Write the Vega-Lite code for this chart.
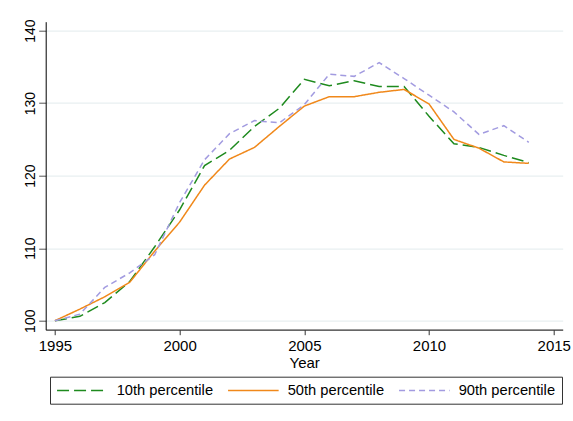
{
  "$schema": "https://vega.github.io/schema/vega-lite/v6.json",
  "width": 517,
  "height": 308,
  "autosize": {"type": "none"},
  "padding": {"left": 45.7, "top": 21.7, "right": 10.3, "bottom": 91.3},
  "background": "white",
  "config": {
    "view": {"stroke": null},
    "font": "Liberation Sans",
    "axis": {"labelFont": "Liberation Sans", "titleFont": "Liberation Sans", "labelColor": "black", "titleColor": "black"}
  },
  "data": {
    "values": [
      {"year": 1995, "series": "10th percentile", "value": 100},
      {"year": 1996, "series": "10th percentile", "value": 100.6},
      {"year": 1997, "series": "10th percentile", "value": 102.5},
      {"year": 1998, "series": "10th percentile", "value": 105.4},
      {"year": 1999, "series": "10th percentile", "value": 110.2},
      {"year": 2000, "series": "10th percentile", "value": 115.3},
      {"year": 2001, "series": "10th percentile", "value": 121.4},
      {"year": 2002, "series": "10th percentile", "value": 123.5},
      {"year": 2003, "series": "10th percentile", "value": 126.8},
      {"year": 2004, "series": "10th percentile", "value": 129.3},
      {"year": 2005, "series": "10th percentile", "value": 133.3},
      {"year": 2006, "series": "10th percentile", "value": 132.4},
      {"year": 2007, "series": "10th percentile", "value": 133.1},
      {"year": 2008, "series": "10th percentile", "value": 132.3},
      {"year": 2009, "series": "10th percentile", "value": 132.3},
      {"year": 2010, "series": "10th percentile", "value": 128.2},
      {"year": 2011, "series": "10th percentile", "value": 124.4},
      {"year": 2012, "series": "10th percentile", "value": 123.9},
      {"year": 2013, "series": "10th percentile", "value": 122.8},
      {"year": 2014, "series": "10th percentile", "value": 121.8},
      {"year": 1995, "series": "50th percentile", "value": 100},
      {"year": 1996, "series": "50th percentile", "value": 101.6},
      {"year": 1997, "series": "50th percentile", "value": 103.3},
      {"year": 1998, "series": "50th percentile", "value": 105.3},
      {"year": 1999, "series": "50th percentile", "value": 109.6},
      {"year": 2000, "series": "50th percentile", "value": 113.6},
      {"year": 2001, "series": "50th percentile", "value": 118.7},
      {"year": 2002, "series": "50th percentile", "value": 122.3},
      {"year": 2003, "series": "50th percentile", "value": 123.9},
      {"year": 2004, "series": "50th percentile", "value": 126.8},
      {"year": 2005, "series": "50th percentile", "value": 129.6},
      {"year": 2006, "series": "50th percentile", "value": 130.9},
      {"year": 2007, "series": "50th percentile", "value": 130.9},
      {"year": 2008, "series": "50th percentile", "value": 131.5},
      {"year": 2009, "series": "50th percentile", "value": 131.9},
      {"year": 2010, "series": "50th percentile", "value": 129.9},
      {"year": 2011, "series": "50th percentile", "value": 125.0},
      {"year": 2012, "series": "50th percentile", "value": 123.8},
      {"year": 2013, "series": "50th percentile", "value": 121.9},
      {"year": 2014, "series": "50th percentile", "value": 121.7},
      {"year": 1995, "series": "90th percentile", "value": 100},
      {"year": 1996, "series": "90th percentile", "value": 100.9},
      {"year": 1997, "series": "90th percentile", "value": 104.6},
      {"year": 1998, "series": "90th percentile", "value": 106.6},
      {"year": 1999, "series": "90th percentile", "value": 109.1},
      {"year": 2000, "series": "90th percentile", "value": 116.3},
      {"year": 2001, "series": "90th percentile", "value": 122.2},
      {"year": 2002, "series": "90th percentile", "value": 125.8},
      {"year": 2003, "series": "90th percentile", "value": 127.6},
      {"year": 2004, "series": "90th percentile", "value": 127.3},
      {"year": 2005, "series": "90th percentile", "value": 129.8},
      {"year": 2006, "series": "90th percentile", "value": 134.0},
      {"year": 2007, "series": "90th percentile", "value": 133.7},
      {"year": 2008, "series": "90th percentile", "value": 135.6},
      {"year": 2009, "series": "90th percentile", "value": 133.4},
      {"year": 2010, "series": "90th percentile", "value": 131.1},
      {"year": 2011, "series": "90th percentile", "value": 128.8},
      {"year": 2012, "series": "90th percentile", "value": 125.7},
      {"year": 2013, "series": "90th percentile", "value": 126.9},
      {"year": 2014, "series": "90th percentile", "value": 124.6}
    ]
  },
  "mark": {"type": "line", "strokeWidth": 1.5},
  "encoding": {
    "x": {
      "field": "year",
      "type": "quantitative",
      "scale": {"domain": [1994.63, 2015.36], "nice": false, "zero": false},
      "axis": {
        "values": [1995, 2000, 2005, 2010, 2015],
        "format": "d",
        "grid": false,
        "domainColor": "#333333",
        "domainWidth": 1.2,
        "tickColor": "#333333",
        "tickSize": 5,
        "labelFontSize": 15,
        "labelPadding": 4,
        "labelFlush": false,
        "title": "Year",
        "titleFontSize": 15,
        "titleFontWeight": "normal",
        "titlePadding": 2
      }
    },
    "y": {
      "field": "value",
      "type": "quantitative",
      "scale": {"domain": [98.76, 141.24], "nice": false, "zero": false},
      "axis": {
        "values": [100, 110, 120, 130, 140],
        "grid": true,
        "gridColor": "#E8EFF1",
        "gridWidth": 1.2,
        "domainColor": "black",
        "tickColor": "#555555",
        "tickSize": 7,
        "labelFontSize": 14,
        "labelAngle": -90,
        "labelAlign": "center",
        "labelBaseline": "alphabetic",
        "labelPadding": 4,
        "title": null
      }
    },
    "color": {
      "field": "series",
      "type": "nominal",
      "scale": {
        "domain": ["10th percentile", "50th percentile", "90th percentile"],
        "range": ["#1E8A1E", "#F0881A", "#A29BE0"]
      },
      "legend": {
        "title": null,
        "orient": "none",
        "legendX": 4.3,
        "legendY": 355,
        "direction": "horizontal",
        "columns": 3,
        "symbolType": "M-8,0H8",
        "symbolSize": 40,
        "symbolOffset": 19,
        "symbolStrokeWidth": 1.5,
        "labelFontSize": 14.7,
        "labelFont": "Liberation Sans",
        "labelColor": "black",
        "labelOffset": 27,
        "columnPadding": 11,
        "padding": 6,
        "strokeColor": "#333333"
      }
    },
    "strokeDash": {
      "field": "series",
      "type": "nominal",
      "scale": {
        "domain": ["10th percentile", "50th percentile", "90th percentile"],
        "range": [[12, 5], [1, 0], [6, 4]]
      },
      "legend": {
        "title": null,
        "orient": "none",
        "legendX": 4.3,
        "legendY": 355,
        "direction": "horizontal",
        "columns": 3,
        "symbolType": "M-8,0H8",
        "symbolSize": 40,
        "symbolOffset": 19,
        "symbolStrokeWidth": 1.5,
        "labelFontSize": 14.7,
        "labelFont": "Liberation Sans",
        "labelColor": "black",
        "labelOffset": 27,
        "columnPadding": 11,
        "padding": 6,
        "strokeColor": "#333333"
      }
    }
  }
}
